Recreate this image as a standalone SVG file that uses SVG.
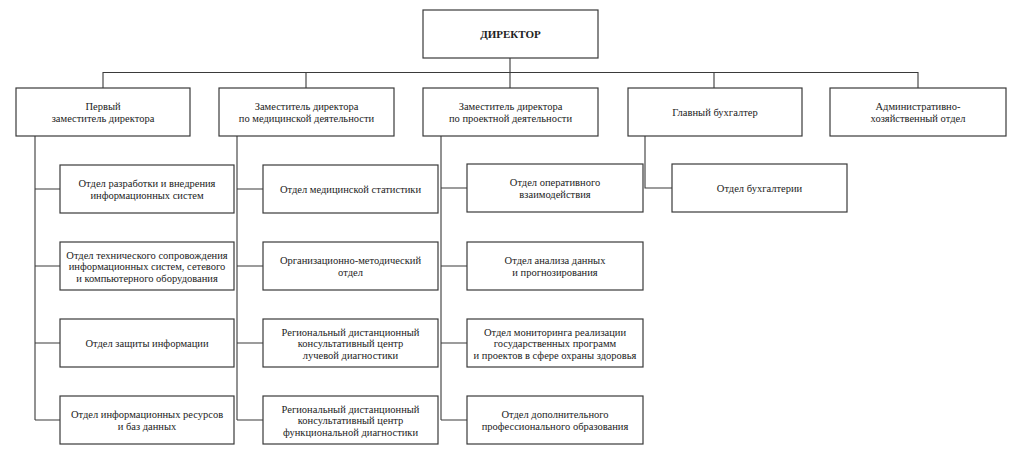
<svg xmlns="http://www.w3.org/2000/svg" width="1024" height="456" viewBox="0 0 1024 456">
<style>
.box{fill:#fff;stroke:#3a3a3a;stroke-width:1.2}
.ln{fill:none;stroke:#3a3a3a;stroke-width:1.1}
text{font-family:"Liberation Serif","Times New Roman",serif;font-size:10.5px;fill:#222;text-anchor:middle}
.b{font-weight:bold;font-size:11px}
</style>
<rect width="1024" height="456" fill="#fff"/>
<g id="connectors">
<path class="ln" d="M510,58V88M103,88V72.5H918V88M306,72.5V88M714,72.5V88"/>
<path class="ln" d="M35,136V420M35,189H60M35,266H60M35,343H60M35,420H60"/>
<path class="ln" d="M237,136V420M237,189H263M237,266H263M237,343H263M237,420H263"/>
<path class="ln" d="M441,136V420M441,188H467M441,266H467M441,343H467M441,420H467"/>
<path class="ln" d="M645,136V188H672"/>
</g>
<g id="director"><rect class="box" x="423" y="10" width="175" height="48"/><text class="b" x="510.5" y="38">ДИРЕКТОР</text></g>
<g id="first-deputy"><rect class="box" x="16" y="88" width="174" height="48"/><text x="103" y="110">Первый</text><text x="103" y="121.5">заместитель директора</text></g>
<g id="deputy-med"><rect class="box" x="219" y="88" width="175" height="48"/><text x="306.5" y="110">Заместитель директора</text><text x="306.5" y="121.5">по медицинской деятельности</text></g>
<g id="deputy-proj"><rect class="box" x="423" y="88" width="175" height="48"/><text x="510.5" y="110">Заместитель директора</text><text x="510.5" y="121.5">по проектной деятельности</text></g>
<g id="chief-accountant"><rect class="box" x="628" y="88" width="174" height="48"/><text x="715" y="115.5">Главный бухгалтер</text></g>
<g id="admin"><rect class="box" x="830" y="88" width="176" height="48"/><text x="918" y="110">Административно-</text><text x="918" y="121.5">хозяйственный отдел</text></g>

<g id="c1a"><rect class="box" x="60" y="165" width="174" height="48"/><text x="147" y="187">Отдел разработки и внедрения</text><text x="147" y="198.5">информационных систем</text></g>
<g id="c1b"><rect class="box" x="60" y="242" width="174" height="48"/><text x="147" y="258.5">Отдел технического сопровождения</text><text x="147" y="270">информационных систем, сетевого</text><text x="147" y="281.5">и компьютерного оборудования</text></g>
<g id="c1c"><rect class="box" x="60" y="319" width="174" height="48"/><text x="147" y="346.5">Отдел защиты информации</text></g>
<g id="c1d"><rect class="box" x="60" y="396" width="174" height="48"/><text x="147" y="418">Отдел информационных ресурсов</text><text x="147" y="429.5">и баз данных</text></g>

<g id="c2a"><rect class="box" x="263" y="165" width="175" height="48"/><text x="350.5" y="192.5">Отдел медицинской статистики</text></g>
<g id="c2b"><rect class="box" x="263" y="242" width="175" height="48"/><text x="350.5" y="264">Организационно-методический</text><text x="350.5" y="275.5">отдел</text></g>
<g id="c2c"><rect class="box" x="263" y="319" width="175" height="48"/><text x="350.5" y="335.5">Региональный дистанционный</text><text x="350.5" y="347">консультативный центр</text><text x="350.5" y="358.5">лучевой диагностики</text></g>
<g id="c2d"><rect class="box" x="263" y="396" width="175" height="48"/><text x="350.5" y="412.5">Региональный дистанционный</text><text x="350.5" y="424">консультативный центр</text><text x="350.5" y="435.5">функциональной диагностики</text></g>

<g id="c3a"><rect class="box" x="467" y="164" width="176" height="48"/><text x="555" y="186">Отдел оперативного</text><text x="555" y="197.5">взаимодействия</text></g>
<g id="c3b"><rect class="box" x="467" y="242" width="176" height="48"/><text x="555" y="264">Отдел анализа данных</text><text x="555" y="275.5">и прогнозирования</text></g>
<g id="c3c"><rect class="box" x="467" y="319" width="176" height="48"/><text x="555" y="335.5">Отдел мониторинга реализации</text><text x="555" y="347">государственных программ</text><text x="555" y="358.5">и проектов в сфере охраны здоровья</text></g>
<g id="c3d"><rect class="box" x="467" y="396" width="176" height="48"/><text x="555" y="418">Отдел дополнительного</text><text x="555" y="429.5">профессионального образования</text></g>

<g id="c4a"><rect class="box" x="672" y="164" width="175" height="48"/><text x="759.5" y="191.5">Отдел бухгалтерии</text></g>
</svg>
